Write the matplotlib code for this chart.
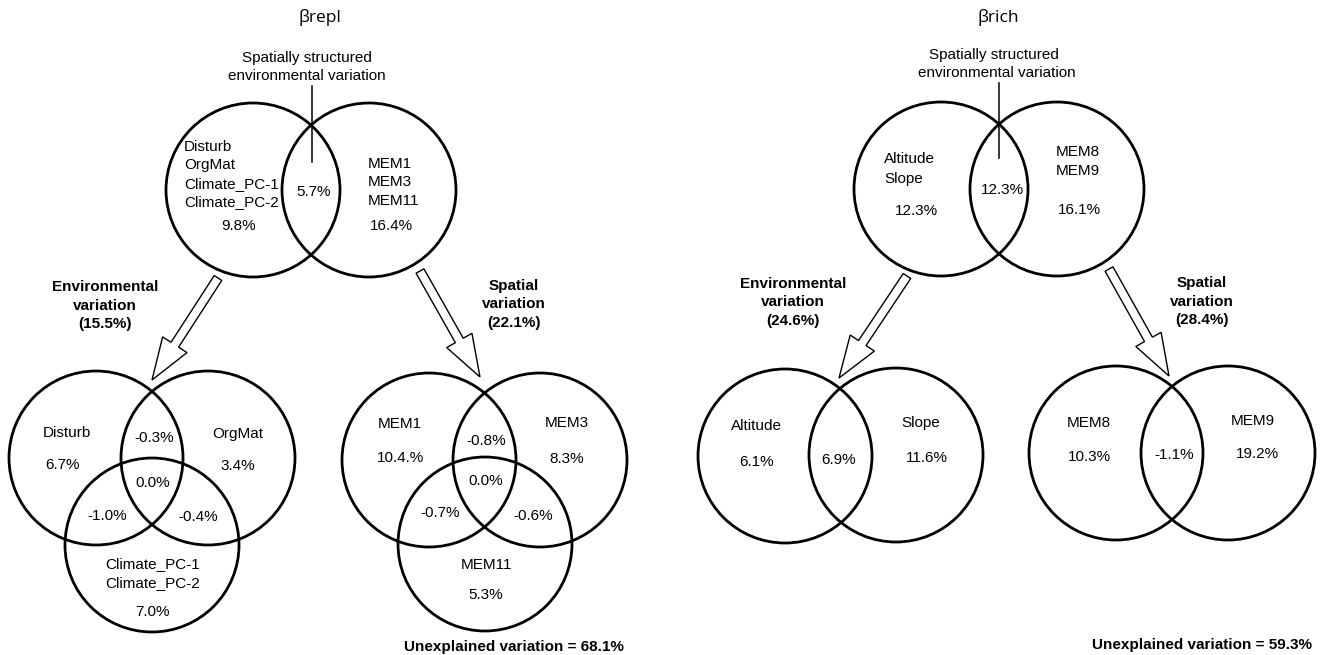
import matplotlib.pyplot as plt
from matplotlib.patches import Circle, FancyArrow

plt.rcParams['font.family'] = ['Liberation Sans', 'DejaVu Sans']

# beta replacement (left panel)
repl_env_vars = ['Disturb', 'OrgMat', 'Climate_PC-1', 'Climate_PC-2']
repl_spa_vars = ['MEM1', 'MEM3', 'MEM11']
repl_top = [9.8, 5.7, 16.4]          # environment only, shared, space only
repl_env_total = 15.5
repl_spa_total = 22.1
# single sets a, b, c, then ab, ac, bc, abc
repl_env_parts = [6.7, 3.4, 7.0, -0.3, -1.0, -0.4, 0.0]
repl_spa_parts = [10.4, 8.3, 5.3, -0.8, -0.7, -0.6, 0.0]
repl_unexplained = 68.1

# beta richness (right panel)
rich_env_vars = ['Altitude', 'Slope']
rich_spa_vars = ['MEM8', 'MEM9']
rich_top = [12.3, 12.3, 16.1]
rich_env_total = 24.6
rich_spa_total = 28.4
# a, b, ab
rich_env_parts = [6.1, 11.6, 6.9]
rich_spa_parts = [10.3, 19.2, -1.1]
rich_unexplained = 59.3

R = 87
FS = 11


def pct(v):
    return f'{v:.1f}%'


def circle(ax, x, y):
    ax.add_patch(Circle((x, y), R, fill=False, ec='black', lw=2.0))


def txt(ax, x, y, s, **kw):
    ax.text(x, y, s, ha=kw.pop('ha', 'center'), va='center', fontsize=FS, **kw)


def arrow(ax, x0, y0, x1, y1):
    ax.add_patch(FancyArrow(x0, y0, x1 - x0, y1 - y0, width=9, head_width=29,
                            head_length=42, length_includes_head=True,
                            fc='white', ec='black', lw=1.0))


def bold_label(ax, x, y, lines):
    for i, s in enumerate(lines):
        txt(ax, x, y + i * 18.5, s, fontweight='bold')


fig = plt.figure(figsize=(13.21, 6.55), dpi=100)
ax = fig.add_axes([0, 0, 1, 1])
ax.set_xlim(0, 1321)
ax.set_ylim(655, 0)
ax.set_aspect('equal')
ax.axis('off')

# ---------------- left panel: beta repl ----------------
ax.text(320, 18, '\u03b2repl', ha='center', va='center', fontsize=12.5, family='Open Sans')
txt(ax, 307, 58, 'Spatially structured')
txt(ax, 307, 76, 'environmental variation')
ax.plot([312, 312], [86, 162], color='black', lw=1.1)
circle(ax, 253, 190)
circle(ax, 369, 190)
for i, s in enumerate(repl_env_vars):
    txt(ax, 184, 147 + i * 18.5, s, ha='left')
txt(ax, 239, 226, pct(repl_top[0]))
txt(ax, 314, 192, pct(repl_top[1]))
for i, s in enumerate(repl_spa_vars):
    txt(ax, 368, 164 + i * 18.5, s, ha='left')
txt(ax, 391, 226, pct(repl_top[2]))

arrow(ax, 218, 278, 152, 380)
arrow(ax, 420, 271, 480, 377)
bold_label(ax, 105, 287, ['Environmental', 'variation', f'({pct(repl_env_total)})'])
bold_label(ax, 514, 286, ['Spatial', 'variation', f'({pct(repl_spa_total)})'])

# environmental fractions
for cx, cy in [(96, 458), (208, 458), (152, 545)]:
    circle(ax, cx, cy)
txt(ax, 67, 433, repl_env_vars[0])
txt(ax, 238, 434, repl_env_vars[1])
txt(ax, 153, 564, repl_env_vars[2])
txt(ax, 153, 583, repl_env_vars[3])
env_pos = [(63, 465), (238, 466), (153, 612), (154, 438), (107, 516), (198, 517), (153, 483)]
for (x, y), v in zip(env_pos, repl_env_parts):
    txt(ax, x, y, pct(v))

# spatial fractions
for cx, cy in [(429, 460), (540, 460), (485, 544)]:
    circle(ax, cx, cy)
txt(ax, 400, 424, repl_spa_vars[0])
txt(ax, 567, 423, repl_spa_vars[1])
txt(ax, 486, 565, repl_spa_vars[2])
spa_labels = [pct(v) for v in repl_spa_parts]
spa_labels[0] = '10.4.%'  # as printed in the original figure
spa_pos = [(400, 458), (567, 459), (486, 595), (486, 441), (440, 513), (533, 516), (486, 481)]
for (x, y), s in zip(spa_pos, spa_labels):
    txt(ax, x, y, s)
txt(ax, 514, 647, f'Unexplained variation = {pct(repl_unexplained)}', fontweight='bold')

# ---------------- right panel: beta rich ----------------
ax.text(998, 18, '\u03b2rich', ha='center', va='center', fontsize=12.5, family='Open Sans')
txt(ax, 994, 55, 'Spatially structured')
txt(ax, 997, 73, 'environmental variation')
ax.plot([999, 999], [83, 158], color='black', lw=1.1)
circle(ax, 941, 189)
circle(ax, 1057, 189)
for i, s in enumerate(rich_env_vars):
    txt(ax, 884, 159 + i * 19.5, s, ha='left')
txt(ax, 916, 211, pct(rich_top[0]))
txt(ax, 1002, 190, pct(rich_top[1]))
for i, s in enumerate(rich_spa_vars):
    txt(ax, 1056, 152 + i * 19, s, ha='left')
txt(ax, 1079, 210, pct(rich_top[2]))

arrow(ax, 907, 276, 839, 378)
arrow(ax, 1109, 269, 1169, 376)
bold_label(ax, 793, 284, ['Environmental', 'variation', f'({pct(rich_env_total)})'])
bold_label(ax, 1202, 283, ['Spatial', 'variation', f'({pct(rich_spa_total)})'])

circle(ax, 785, 456)
circle(ax, 896, 455)
txt(ax, 756, 426, rich_env_vars[0])
txt(ax, 921, 423, rich_env_vars[1])
for (x, y), v in zip([(757, 462), (927, 458), (839, 460)], rich_env_parts):
    txt(ax, x, y, pct(v))

circle(ax, 1116, 453)
circle(ax, 1228, 453)
txt(ax, 1089, 423, rich_spa_vars[0])
txt(ax, 1253, 421, rich_spa_vars[1])
for (x, y), v in zip([(1089, 457), (1257, 454), (1174, 455)], rich_spa_parts):
    txt(ax, x, y, pct(v))
txt(ax, 1202, 645, f'Unexplained variation = {pct(rich_unexplained)}', fontweight='bold')

fig.savefig('out.png', dpi=100, facecolor='white')
